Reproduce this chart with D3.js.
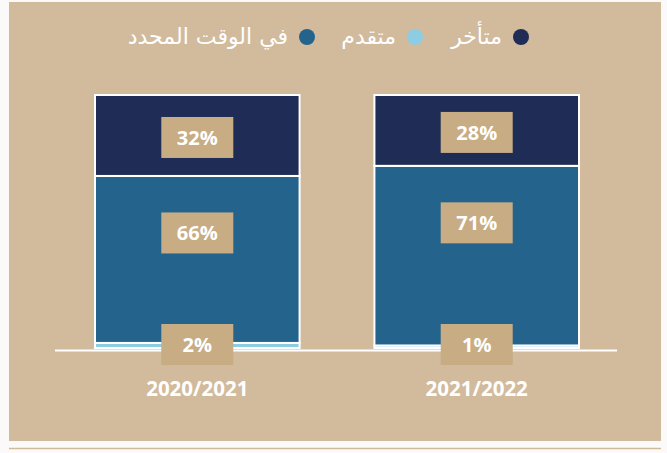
<!DOCTYPE html>
<html>
<head>
<meta charset="utf-8">
<script src="https://cdn.jsdelivr.net/npm/d3@7"></script>
<style>
  body { margin: 0; background: #fbfaf8; }
  svg { display: block; }
</style>
</head>
<body>
<div id="chart"></div>
<script>
// data
var years = ["2020/2021", "2021/2022"];
var onTime = [66, 71];   // في الوقت المحدد
var early = [2, 1];      // متقدم
var late = [32, 28];     // متأخر

var seriesNames = ["في الوقت المحدد", "متقدم", "متأخر"];
var seriesColors = ["#24648c", "#8dcde3", "#1f2c55"];

var width = 667, height = 453;

var svg = d3.select("#chart").append("svg")
    .attr("width", width)
    .attr("height", height);

// panel
svg.append("rect")
   .attr("x", 9).attr("y", 2)
   .attr("width", 652).attr("height", 439)
   .attr("fill", "#d2ba9c");

svg.append("line")
   .attr("x1", 9).attr("x2", 661)
   .attr("y1", 448.5).attr("y2", 448.5)
   .attr("stroke", "#d2ba9c")
   .attr("stroke-width", 1.5);

var table = years.map(function (y, i) {
  return { year: y, early: early[i], onTime: onTime[i], late: late[i] };
});

// stack from bottom: early, onTime, late
var stack = d3.stack().keys(["early", "onTime", "late"]);
var layers = stack(table);
var colorByKey = { early: "#8dcde3", onTime: "#24648c", late: "#1f2c55" };

var x = d3.scaleBand()
    .domain(years)
    .range([95, 579])
    .paddingInner(75 / 280)
    .paddingOuter(0);

var y = d3.scaleLinear()
    .domain([0, 100])
    .range([348, 95]);

// baseline
svg.append("line")
   .attr("x1", 55).attr("x2", 617)
   .attr("y1", 350.5).attr("y2", 350.5)
   .attr("stroke", "#ffffff")
   .attr("stroke-width", 2);

var groups = svg.append("g").selectAll("g")
    .data(layers)
    .enter()
    .append("g")
    .attr("fill", function (d) { return colorByKey[d.key]; });

groups.selectAll("rect")
    .data(function (d) { return d; })
    .enter()
    .append("rect")
    .attr("x", function (d) { return x(d.data.year); })
    .attr("y", function (d) { return y(d[1]); })
    .attr("width", x.bandwidth())
    .attr("height", function (d) { return y(d[0]) - y(d[1]); })
    .attr("stroke", "#ffffff")
    .attr("stroke-width", 2);

// value labels
var labelData = [];
layers.forEach(function (layer) {
  layer.forEach(function (d) {
    labelData.push({ year: d.data.year, lo: d[0], hi: d[1], value: d[1] - d[0] });
  });
});

var labels = svg.append("g").selectAll("g")
    .data(labelData)
    .enter()
    .append("g")
    .attr("transform", function (d) {
      var top = y(d.hi), half = (y(d.lo) - y(d.hi)) / 2;
      var cy = top + Math.min(half, 55) + 2;
      if (d.value < 5) cy = 344.5;
      return "translate(" + (x(d.year) + x.bandwidth() / 2) + "," + cy + ")";
    });

labels.append("rect")
    .attr("x", -36).attr("y", -20.5)
    .attr("width", 72).attr("height", 41)
    .attr("fill", "#c8ac84");

labels.append("text")
    .attr("text-anchor", "middle")
    .attr("dy", "0.36em")
    .attr("fill", "#ffffff")
    .style("font-family", "'Open Sans', sans-serif")
    .style("font-weight", "bold")
    .style("font-size", "20px")
    .text(function (d) { return d.value + "%"; });

// category labels
svg.append("g").selectAll("text")
    .data(years)
    .enter()
    .append("text")
    .attr("x", function (d) { return x(d) + x.bandwidth() / 2; })
    .attr("y", 389)
    .attr("text-anchor", "middle")
    .attr("dy", "0.36em")
    .attr("fill", "#ffffff")
    .style("font-family", "'Open Sans', sans-serif")
    .style("font-weight", "bold")
    .style("font-size", "20.5px")
    .text(function (d) { return d; });

// legend (right to left)
var legendPos = [307, 415, 521];
var legend = svg.append("g").selectAll("g")
    .data(seriesNames)
    .enter()
    .append("g")
    .attr("transform", function (d, i) { return "translate(" + legendPos[i] + ",37)"; });

legend.append("circle")
    .attr("r", 8)
    .attr("fill", function (d, i) { return seriesColors[i]; });

legend.append("text")
    .attr("x", -19)
    .attr("dy", "0.3em")
    .attr("text-anchor", "end")
    .attr("fill", "#ffffff")
    .style("font-family", "'DejaVu Sans', sans-serif")
    .style("font-size", "22px")
    .text(function (d) { return d; });
</script>
</body>
</html>
